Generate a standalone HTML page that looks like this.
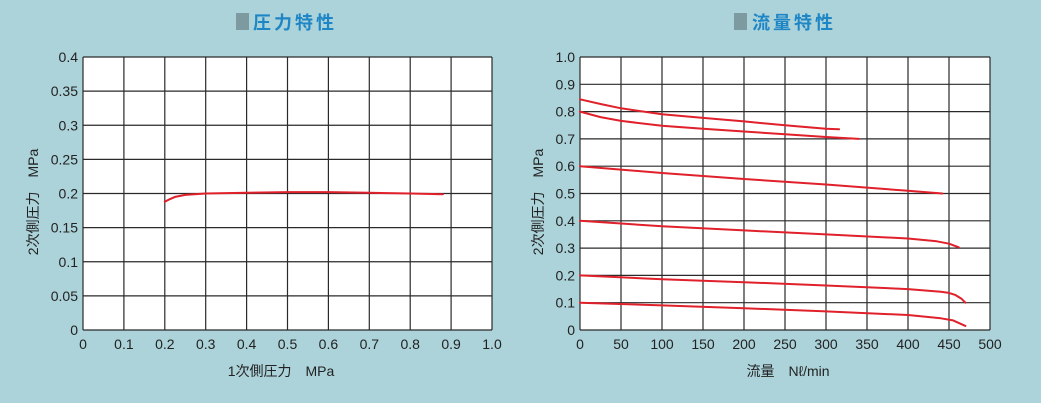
<!DOCTYPE html>
<html><head><meta charset="utf-8"><style>
html,body{margin:0;padding:0;background:#acd3da;}
svg{display:block;font-family:"Liberation Sans","Noto Sans CJK JP",sans-serif;}
</style></head><body>
<svg id="s" width="1041" height="403" viewBox="0 0 1041 403">
<rect width="1041" height="403" fill="#acd3da"/>
<rect x="236" y="13" width="13" height="17" fill="#7d9aa0"/>
<text x="253" y="29" font-size="18" font-weight="bold" fill="#1f86c6" letter-spacing="3">圧力特性</text>
<rect x="734" y="13" width="13" height="17" fill="#7d9aa0"/>
<text x="752" y="29" font-size="18" font-weight="bold" fill="#1f86c6" letter-spacing="3">流量特性</text>
</svg>
<script>
// Pressure chart data
const pXTicks=[0,0.1,0.2,0.3,0.4,0.5,0.6,0.7,0.8,0.9,1.0];
const pXLabels=["0","0.1","0.2","0.3","0.4","0.5","0.6","0.7","0.8","0.9","1.0"];
const pYTicks=[0,0.05,0.1,0.15,0.2,0.25,0.3,0.35,0.4];
const pYLabels=["0","0.05","0.1","0.15","0.2","0.25","0.3","0.35","0.4"];
const pPrimary=[0.2,0.21,0.225,0.25,0.3,0.4,0.5,0.6,0.7,0.8,0.88];
const pSecondary=[0.188,0.191,0.195,0.198,0.2,0.201,0.202,0.202,0.201,0.2,0.199];
// Flow chart data
const fXTicks=[0,50,100,150,200,250,300,350,400,450,500];
const fXLabels=["0","50","100","150","200","250","300","350","400","450","500"];
const fYTicks=[0,0.1,0.2,0.3,0.4,0.5,0.6,0.7,0.8,0.9,1.0];
const fYLabels=["0","0.1","0.2","0.3","0.4","0.5","0.6","0.7","0.8","0.9","1.0"];
const f1x=[0,25,50,100,150,200,250,300,316];
const f1y=[0.845,0.828,0.812,0.79,0.777,0.764,0.75,0.737,0.735];
const f2x=[0,25,50,100,150,200,250,300,340];
const f2y=[0.8,0.78,0.766,0.748,0.737,0.727,0.717,0.707,0.7];
const f3x=[0,100,200,300,400,442];
const f3y=[0.6,0.575,0.553,0.533,0.51,0.5];
const f4x=[0,100,200,300,400,435,450,462];
const f4y=[0.4,0.38,0.365,0.35,0.335,0.325,0.316,0.303];
const f5x=[0,100,200,300,400,440,450,458,465,470];
const f5y=[0.2,0.186,0.175,0.163,0.15,0.14,0.136,0.128,0.115,0.1];
const f6x=[0,100,200,300,400,440,455,470];
const f6y=[0.1,0.09,0.08,0.068,0.055,0.043,0.035,0.015];

const NS="http://www.w3.org/2000/svg";
const svg=document.getElementById('s');
function mk(tag,attrs){const e=document.createElementNS(NS,tag);for(const k in attrs)e.setAttribute(k,attrs[k]);svg.appendChild(e);return e;}

function chart(o){
  const sx=v=>o.x0+(v-o.xmin)/(o.xmax-o.xmin)*(o.x1-o.x0);
  const sy=v=>o.y1-(v-o.ymin)/(o.ymax-o.ymin)*(o.y1-o.y0);
  const bg=mk('rect',{x:o.x0,y:o.y0,width:o.x1-o.x0,height:o.y1-o.y0,fill:'#fff'});
  
  
  o.xt.forEach((v,i)=>{
    const l=mk('line',{x1:sx(v),x2:sx(v),y1:o.y0,y2:o.y1,stroke:'#2a2a2a','stroke-width':1.2});
    
    
    const t=mk('text',{x:sx(v),y:o.y1+19,'font-size':14,fill:'#222','text-anchor':'middle'});
    t.textContent=o.xl[i];
    
    
  });
  o.yt.forEach((v,i)=>{
    const l=mk('line',{x1:o.x0,x2:o.x1,y1:sy(v),y2:sy(v),stroke:'#2a2a2a','stroke-width':1.2});
    
    
    const t=mk('text',{x:o.x0-5,y:sy(v)+5,'font-size':14,fill:'#222','text-anchor':'end'});
    t.textContent=o.yl[i];
    
    
  });
  o.series.forEach((s,k)=>{
    const pts=s[0].map((x,i)=>sx(x).toFixed(1)+','+sy(s[1][i]).toFixed(1)).join(' ');
    const p=mk('polyline',{points:pts,fill:'none',stroke:'#e0202a','stroke-width':2,'stroke-linejoin':'round','stroke-linecap':'round'});
    
    
  });
  const xt=mk('text',{x:o.xlx,y:376,'font-size':14,fill:'#222','text-anchor':'middle'});
  xt.textContent=o.xTitle;
  
  
  const yt=mk('text',{x:0,y:0,'font-size':14,fill:'#222','text-anchor':'middle',transform:'translate('+o.ylx+',202) rotate(-90)'});
  yt.textContent=o.yTitle;
  
  
}
chart({id:'pressure',x0:83,x1:492,y0:57,y1:330,xmin:0,xmax:1,ymin:0,ymax:0.4,xt:pXTicks,xl:pXLabels,yt:pYTicks,yl:pYLabels,
  series:[[pPrimary,pSecondary]],xTitle:'1次側圧力　MPa',yTitle:'2次側圧力　MPa',xlx:281,ylx:38});
chart({id:'flow',x0:580,x1:990,y0:57,y1:330,xmin:0,xmax:500,ymin:0,ymax:1,xt:fXTicks,xl:fXLabels,yt:fYTicks,yl:fYLabels,
  series:[[f1x,f1y],[f2x,f2y],[f3x,f3y],[f4x,f4y],[f5x,f5y],[f6x,f6y]],xTitle:'流量　Nℓ/min',yTitle:'2次側圧力　MPa',xlx:788,ylx:543});
</script>
</body></html>
